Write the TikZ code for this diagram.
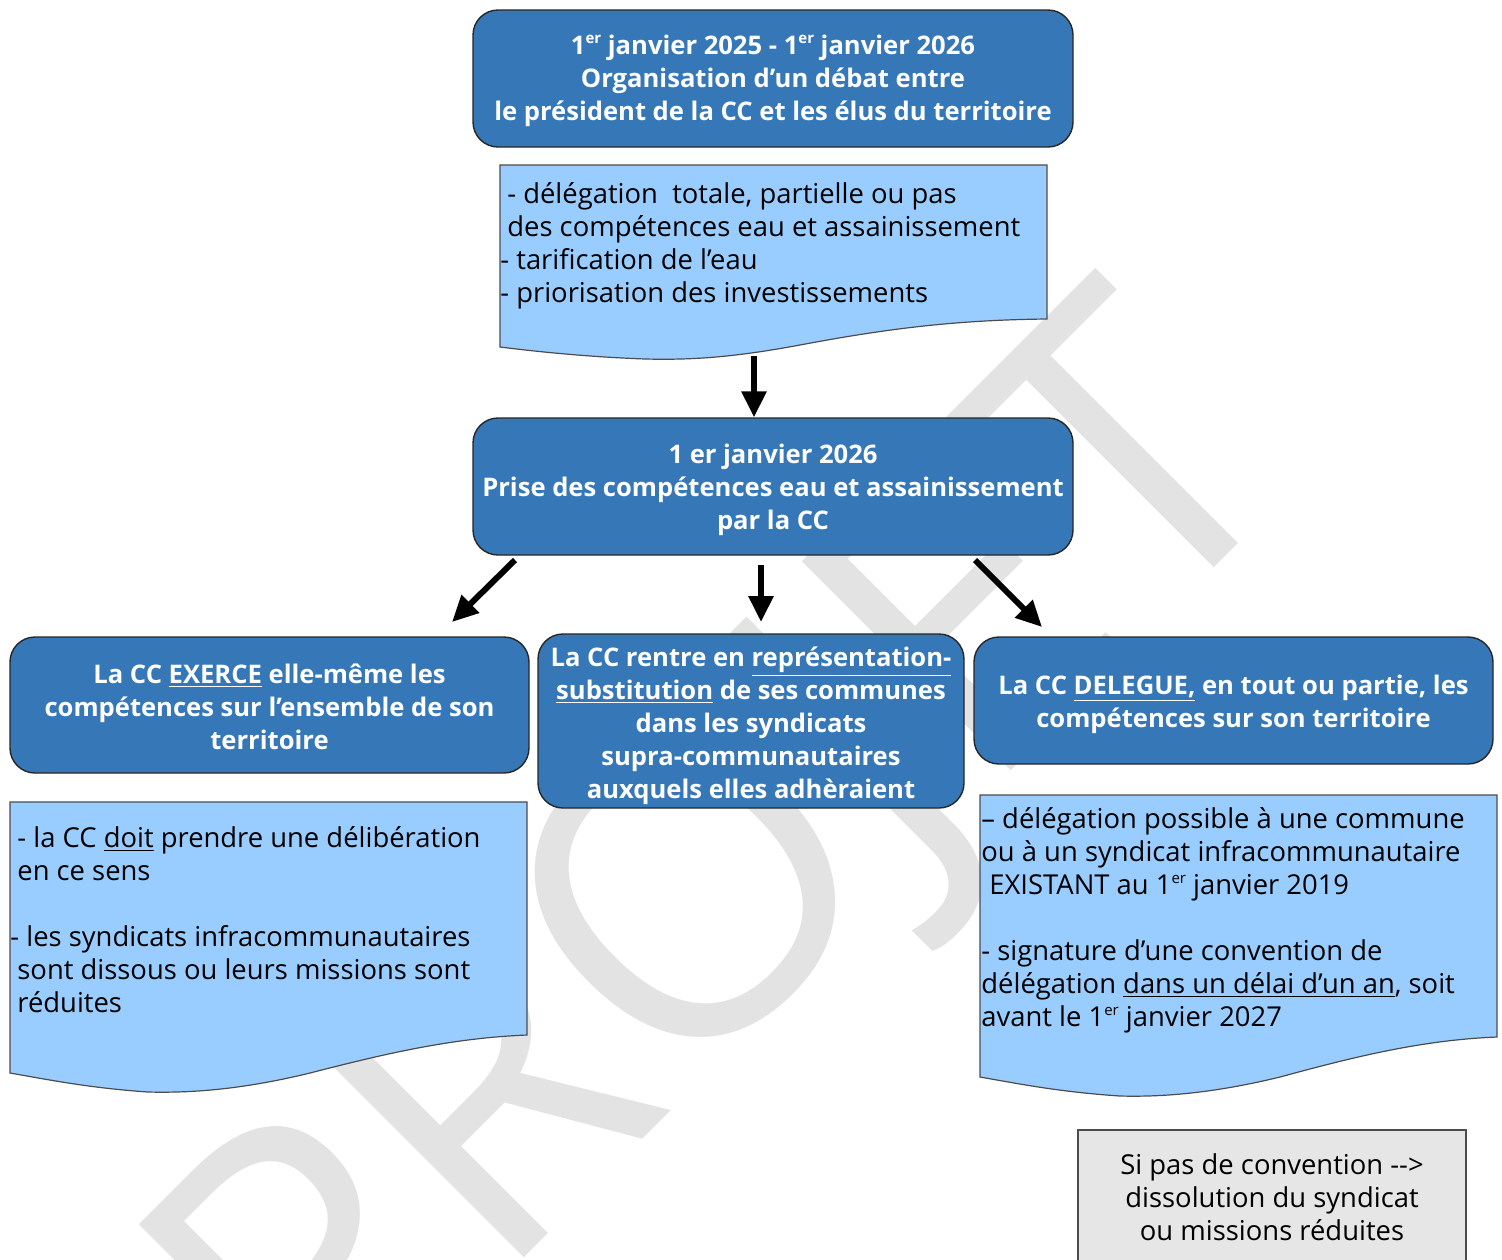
\documentclass[tikz,border=0pt]{standalone}
\usepackage{fontspec}
\setmainfont{Open Sans}
\usetikzlibrary{arrows.meta}
\definecolor{bleuCC}{RGB}{54,120,183}
\definecolor{bleuclair}{RGB}{153,204,255}
\definecolor{grisfond}{RGB}{230,230,230}
\definecolor{grisfil}{RGB}{227,227,227}

\newcommand\ier{1\raisebox{0.75ex}{\fontsize{7.5}{8}\selectfont er}}
\newcommand\haut[1]{\rule{0pt}{#1}}

\tikzset{
  etape/.style={draw=black!85, line width=0.7pt, fill=bleuCC, rounded corners=12.5pt,
    text=white, align=center, inner sep=0pt, font=\bfseries\fontsize{12.8}{16.5}\selectfont},
  feuille/.style={draw=black!70, line width=0.6pt, fill=bleuclair},
  notes/.style={anchor=north west, align=left, inner sep=0pt, font=\fontsize{13.7}{16.5}\selectfont},
  fleche/.style={line width=3pt, -{Triangle[length=13pt,width=12pt]}},
}

\begin{document}
\begin{tikzpicture}[x=0.5pt,y=-0.5pt]
\useasboundingbox (0,0) rectangle (1502,1259);

% Filigrane
\node[rotate=45, text=grisfil, font=\fontsize{207}{207}\selectfont] (projet) at (735,890) {PROJET};

% Phase de debat
\node[etape, minimum width=300pt, minimum height=68.5pt] (debat) at (773,78.5)
  {\haut{12pt}\ier\ janvier 2025 - \ier\ janvier 2026\\
   Organisation d’un débat entre\\
   le président de la CC et les élus du territoire};

% Sujets du debat
\filldraw[feuille] (500,165) -- (1047,165) -- (1047,319)
  .. controls (950,320) and (880,330) .. (800,345)
  .. controls (730,358) and (690,360) .. (645,359)
  .. controls (590,357) and (540,352) .. (500,347) -- cycle;
\node[notes] (sujets) at (500,182)
  {\hspace*{3.5pt}- délégation\ \ totale, partielle ou pas\\
   \hspace*{3.5pt}des compétences eau et assainissement\\
   - tarification de l’eau\\
   - priorisation des investissements};

% Prise de competences
\node[etape, minimum width=300pt, minimum height=68.5pt] (prise) at (773,486.5)
  {\haut{13.2pt}1 er janvier 2026\\
   Prise des compétences eau et assainissement\\
   par la CC};

\coordinate (bas) at (754,356);
\draw[fleche] (bas) -- (bas |- prise.north);

% Trois cas
\node[etape, minimum width=259.5pt, minimum height=68pt] (exerce) at (269.5,705)
  {\haut{11.5pt}La CC \underline{EXERCE} elle-même les\\
   compétences sur l’ensemble de son\\
   territoire};
\node[etape, minimum width=213pt, minimum height=87pt] (substi) at (751,721)
  {\haut{14.2pt}La CC rentre en \underline{représentation-}\\
   \underline{substitution} de ses communes\\
   dans les syndicats\\
   supra-communautaires\\
   auxquels elles adhèraient};
\node[etape, minimum width=259.5pt, minimum height=63.5pt] (delegue) at (1233.5,700.5)
  {\haut{13.7pt}La CC \underline{DELEGUE,} en tout ou partie, les\\
   compétences sur son territoire};

\coordinate (g1) at (515,560);
\coordinate (g2) at (452,622);
\coordinate (m1) at (761,565);
\coordinate (d1) at (975,560);
\coordinate (d2) at (1042,627);
\draw[fleche] (g1) -- (g2);
\draw[fleche] (m1) -- (m1 |- g2);
\draw[fleche] (d1) -- (d2);

% Consequences : exercice direct
\filldraw[feuille] (10,802) -- (527,802) -- (527,1035)
  .. controls (450,1038) and (380,1055) .. (310,1073)
  .. controls (240,1090) and (190,1093) .. (148,1092)
  .. controls (90,1088) and (50,1080) .. (10,1073) -- cycle;
\node[notes] (delib) at (10,826)
  {\hspace*{3.5pt}- la CC \underline{doit} prendre une délibération\\
   \hspace*{3.5pt}en ce sens\\[16.5pt]
   - les syndicats infracommunautaires\\
   \hspace*{3.5pt}sont dissous ou leurs missions sont\\
   \hspace*{3.5pt}réduites};

% Consequences : delegation
\filldraw[feuille] (980,795) -- (1497,795) -- (1497,1037)
  .. controls (1420,1040) and (1350,1058) .. (1280,1077)
  .. controls (1210,1094) and (1160,1097) .. (1120,1096)
  .. controls (1060,1092) and (1020,1084) .. (980,1077) -- cycle;
\node[notes] (conv) at (981,807)
  {– délégation possible à une commune\\
   ou à un syndicat infracommunautaire\\
   \hspace*{4pt}EXISTANT au \ier\ janvier 2019\\[16.5pt]
   - signature d’une convention de\\
   délégation \underline{dans un délai d’un an}, soit\\
   avant le \ier\ janvier 2027};

% Sans convention
\node[draw=black!70, line width=0.6pt, fill=grisfond, minimum width=194pt, minimum height=67pt,
  inner sep=0pt, align=center, font=\fontsize{13.7}{16.5}\selectfont] (sansconv) at (1272,1197)
  {Si pas de convention -{}->\\
   dissolution du syndicat\\
   ou missions réduites};

\end{tikzpicture}
\end{document}
